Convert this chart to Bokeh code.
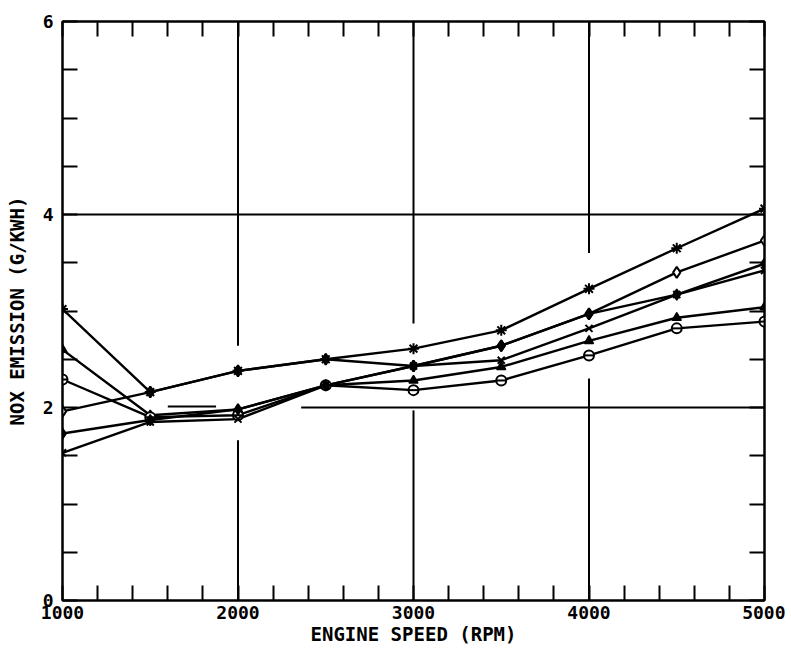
from bokeh.plotting import figure
from bokeh.models import FixedTicker, LinearAxis, CustomJSTickFormatter, Range1d
from bokeh.embed import file_html
from bokeh.resources import INLINE

# ---- data ----
rpm = [1000, 1500, 2000, 2500, 3000, 3500, 4000, 4500, 5000]
nox_plus = [3.02, 2.16, 2.38, 2.50, 2.61, 2.80, 3.23, 3.65, 4.06]
nox_open_diamond = [1.96, 2.16, 2.38, 2.50, 2.43, 2.64, 2.97, 3.40, 3.73]
nox_triangle = [2.60, 1.92, 1.98, 2.23, 2.28, 2.42, 2.69, 2.93, 3.04]
nox_circle = [2.29, 1.90, 1.92, 2.23, 2.18, 2.28, 2.54, 2.82, 2.89]
nox_diamond = [1.73, 1.87, 1.98, 2.23, 2.43, 2.64, 2.97, 3.17, 3.49]
nox_x = [1.53, 1.85, 1.88, 2.23, 2.43, 2.49, 2.82, 3.17, 3.42]

x_ticks = list(range(1000, 5001, 200))
y_ticks = [i * 0.5 for i in range(0, 13)]

# reference (grid) lines of the original plot, with the plotter's gaps
grid_x0 = [2000, 2000, 3000, 3000, 4000, 4000, 1000, 2360, 1600]
grid_y0 = [6.0, 1.66, 6.0, 1.97, 6.0, 2.30, 4.0, 2.0, 2.01]
grid_x1 = [2000, 2000, 3000, 3000, 4000, 4000, 5000, 5000, 1875]
grid_y1 = [2.64, 0.0, 2.87, 0.0, 3.60, 0.0, 4.0, 2.0, 2.01]

FONT = "DejaVu Sans Mono"

p = figure(width=785, height=650,
           x_range=Range1d(1000, 5000), y_range=Range1d(0, 6),
           output_backend="svg", toolbar_location=None,
           min_border_left=62, min_border_right=21,
           min_border_top=21, min_border_bottom=50)
p.background_fill_color = "white"
p.border_fill_color = "white"
p.outline_line_color = "black"
p.outline_line_width = 2
p.xgrid.visible = False
p.ygrid.visible = False

p.segment(grid_x0, grid_y0, grid_x1, grid_y1, line_color="black", line_width=2)

xfmt = CustomJSTickFormatter(code="return (Math.abs(tick % 1000) < 1e-6) ? tick.toFixed(0) : '';")
yfmt = CustomJSTickFormatter(code="return (Math.abs(tick % 2) < 1e-6) ? tick.toFixed(0) : '';")
blank = CustomJSTickFormatter(code="return '';")

def style(ax, ticks, fmt):
    ax.ticker = FixedTicker(ticks=ticks)
    ax.formatter = fmt
    ax.major_tick_in = 15
    ax.major_tick_out = 0
    ax.major_tick_line_width = 2
    ax.major_tick_line_color = "black"
    ax.minor_tick_line_color = None
    ax.axis_line_width = 2
    ax.axis_line_color = "black"
    ax.major_label_text_font = FONT
    ax.major_label_text_font_style = "bold"
    ax.major_label_text_font_size = "18px"
    ax.major_label_text_color = "black"
    ax.axis_label_text_font = FONT
    ax.axis_label_text_font_style = "bold"
    ax.axis_label_text_font_size = "19px"
    ax.axis_label_text_color = "black"

xa = p.xaxis[0]
style(xa, x_ticks, xfmt)
xa.axis_label = "ENGINE SPEED (RPM)"
xa.major_label_standoff = 5
xa.axis_label_standoff = 1

ya = p.yaxis[0]
style(ya, y_ticks, yfmt)
ya.axis_label = "NOX EMISSION (G/KWH)"
ya.major_label_standoff = 9
ya.axis_label_standoff = 12

top = LinearAxis()
style(top, x_ticks, blank)
top.major_label_text_font_size = "0px"
top.major_label_standoff = 0
p.add_layout(top, "above")

right = LinearAxis()
style(right, y_ticks, blank)
right.major_label_text_font_size = "0px"
right.major_label_standoff = 0
p.add_layout(right, "right")

LW = 2.4
for ys in [nox_plus, nox_open_diamond, nox_triangle, nox_circle, nox_diamond, nox_x]:
    p.line(rpm, ys, line_color="black", line_width=LW)

p.scatter(rpm, nox_open_diamond, marker="diamond", size=11, line_color="black",
          fill_color="white", line_width=2)
p.scatter(rpm, nox_triangle, marker="triangle", size=9, line_color="black",
          fill_color="black", line_width=1.5)
p.scatter(rpm, nox_circle, marker="circle", size=10, line_color="black",
          fill_color="white", line_width=2)
p.scatter(rpm, nox_circle, marker="dash", size=10, line_color="black", line_width=2)
p.scatter(rpm, nox_diamond, marker="diamond", size=11, line_color="black",
          fill_color="black", line_width=1.5)
p.scatter(rpm, nox_x, marker="x", size=10, line_color="black", line_width=2)
p.scatter(rpm, nox_plus, marker="asterisk", size=11, line_color="black", line_width=2)

open("out.html", "w").write(file_html(p, INLINE))
